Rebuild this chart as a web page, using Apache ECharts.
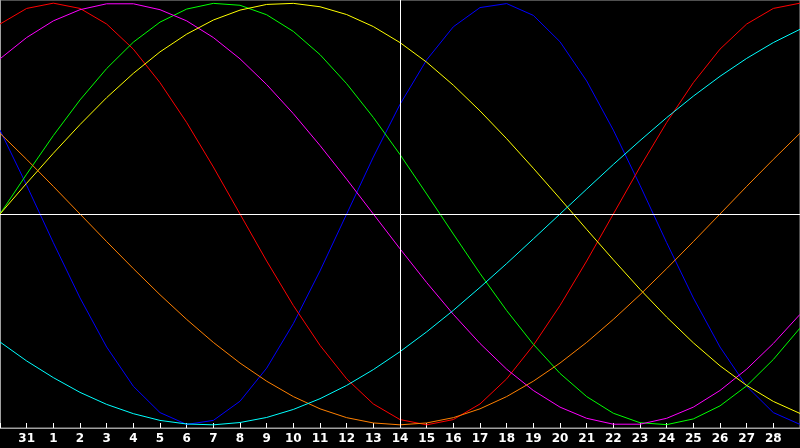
<!DOCTYPE html>
<html>
<head>
<meta charset="utf-8">
<script src="https://cdn.jsdelivr.net/npm/echarts@6/dist/echarts.min.js"></script>
<style>
    html, body { margin: 0; padding: 0; background: #000; }
    #biorhythm { width: 800px; height: 448px; }
</style>
</head>
<body>
<div id="biorhythm"></div>
<script>
// day labels along the bottom (first and last are off the edges)
var days = ['30', '31', '1', '2', '3', '4', '5', '6', '7', '8', '9', '10', '11', '12', '13', '14',
    '15', '16', '17', '18', '19', '20', '21', '22', '23', '24', '25', '26', '27', '28', '29'];
var todayIndex = 15;

// cycle values per day
var physical = [0.398, 0.136, -0.136, -0.398, -0.631, -0.817, -0.942, -0.998, -0.979, -0.888, -0.731,
    -0.520, -0.270, 0, 0.270, 0.520, 0.731, 0.888, 0.979, 0.998, 0.942, 0.817, 0.631, 0.398, 0.136,
    -0.136, -0.398, -0.631, -0.817, -0.942, -0.998];
var emotional = [0.901, 0.975, 1, 0.975, 0.901, 0.782, 0.623, 0.434, 0.223, 0, -0.223, -0.434, -0.623,
    -0.782, -0.901, -0.975, -1, -0.975, -0.901, -0.782, -0.623, -0.434, -0.223, 0, 0.223, 0.434, 0.623,
    0.782, 0.901, 0.975, 1];
var intellectual = [0, 0.189, 0.372, 0.541, 0.690, 0.815, 0.910, 0.972, 0.999, 0.990, 0.945, 0.866, 0.756,
    0.618, 0.458, 0.282, 0.095, -0.095, -0.282, -0.458, -0.618, -0.756, -0.866, -0.945, -0.990, -0.999,
    -0.972, -0.910, -0.815, -0.690, -0.541];
var intuitive = [0.736, 0.837, 0.916, 0.969, 0.997, 0.997, 0.969, 0.916, 0.837, 0.736, 0.614, 0.476, 0.325,
    0.165, 0, -0.165, -0.325, -0.476, -0.614, -0.736, -0.837, -0.916, -0.969, -0.997, -0.997, -0.969,
    -0.916, -0.837, -0.736, -0.614, -0.476];
var aesthetic = [0, 0.146, 0.288, 0.424, 0.552, 0.667, 0.769, 0.853, 0.920, 0.967, 0.994, 0.999, 0.983,
    0.946, 0.889, 0.813, 0.720, 0.611, 0.489, 0.357, 0.217, 0.073, -0.073, -0.217, -0.357, -0.489, -0.611,
    -0.720, -0.813, -0.889, -0.946];
var awareness = [0.383, 0.259, 0.131, 0, -0.131, -0.259, -0.383, -0.5, -0.609, -0.707, -0.793, -0.866,
    -0.924, -0.966, -0.991, -1, -0.991, -0.966, -0.924, -0.866, -0.793, -0.707, -0.609, -0.5, -0.383,
    -0.259, -0.131, 0, 0.131, 0.259, 0.383];
var spiritual = [-0.607, -0.697, -0.776, -0.846, -0.903, -0.947, -0.979, -0.996, -1, -0.989, -0.965,
    -0.927, -0.876, -0.813, -0.738, -0.653, -0.559, -0.457, -0.348, -0.235, -0.118, 0, 0.118, 0.235,
    0.348, 0.457, 0.559, 0.653, 0.738, 0.813, 0.876];

var Biorhythm = function() {
    var cycles = [
        { name: 'Physical', data: physical, color: '#0000ff' },
        { name: 'Emotional', data: emotional, color: '#ff0000' },
        { name: 'Intellectual', data: intellectual, color: '#00ff00' },
        { name: 'Intuitive', data: intuitive, color: '#ff00ff' },
        { name: 'Aesthetic', data: aesthetic, color: '#ffff00' },
        { name: 'Awareness', data: awareness, color: '#ff8000' },
        { name: 'Spiritual', data: spiritual, color: '#00ffff' }
    ];

    var _series = function() {
        var list = [];
        for (var i = 0; i < cycles.length; i++) {
            list.push({
                name: cycles[i].name,
                type: 'line',
                data: cycles[i].data,
                symbol: 'none',
                color: cycles[i].color,
                lineStyle: { width: 1, color: cycles[i].color }
            });
        }
        // today marker and zero line
        list[0].markLine = {
            silent: true,
            symbol: 'none',
            label: { show: false },
            lineStyle: { color: '#ffffff', width: 1, type: 'solid' },
            data: [{ xAxis: todayIndex }, { yAxis: 0 }]
        };
        return list;
    };

    var _chart = function(id) {
        if (typeof echarts == 'undefined') {
            console.warn('Warning - echarts.min.js is not loaded.');
            return;
        }
        var el = document.getElementById(id);
        if (!el) return;

        var chart = echarts.init(el);
        chart.setOption({
            backgroundColor: '#000000',
            animation: false,
            grid: {
                left: 0, top: 0, right: -1, bottom: 20,
                show: true,
                borderColor: '#a0a0a0',
                borderWidth: 1
            },
            xAxis: {
                type: 'category',
                data: days,
                boundaryGap: false,
                axisLine: { onZero: false, lineStyle: { color: '#a0a0a0' } },
                axisTick: {
                    inside: true,
                    length: 5,
                    interval: 0,
                    lineStyle: { color: '#ffffff' }
                },
                axisLabel: {
                    color: '#ffffff',
                    fontFamily: 'DejaVu Sans',
                    fontWeight: 'bold',
                    fontSize: 12,
                    margin: 5,
                    interval: function(index) {
                        return index > 0 && index < days.length - 1;
                    }
                },
                splitLine: { show: false }
            },
            yAxis: {
                type: 'value',
                min: -1.015,
                max: 1.015,
                axisLine: { show: true, lineStyle: { color: '#a0a0a0' } },
                axisTick: { show: false },
                axisLabel: { show: false },
                splitLine: { show: false }
            },
            series: _series()
        });
    };

    return {
        init: function() {
            _chart('biorhythm');
        }
    };
}();

document.addEventListener('DOMContentLoaded', function() {
    Biorhythm.init();
});
</script>
</body>
</html>
